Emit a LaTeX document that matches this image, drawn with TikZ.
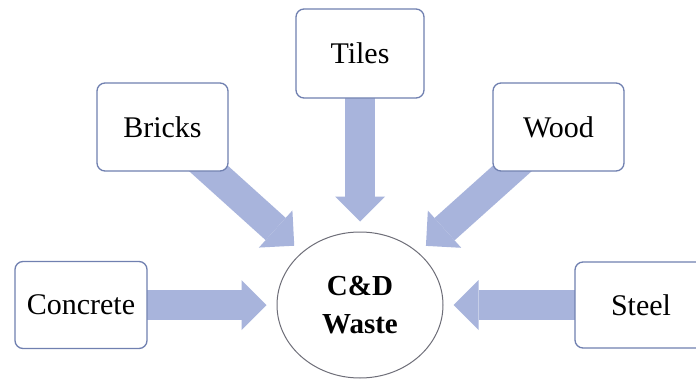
\documentclass[tikz,border=0pt]{standalone}
\usepackage{fontspec}
\setmainfont{LiberationSerif}[Extension=.ttf, UprightFont=*-Regular, BoldFont=*-Bold, ItalicFont=*-Italic, BoldItalicFont=*-BoldItalic]
\usetikzlibrary{arrows.meta,backgrounds,shapes.geometric}
\definecolor{arrowblue}{HTML}{A8B4DC}
\definecolor{boxline}{HTML}{7080B0}
\definecolor{ringline}{HTML}{6E6E78}
\begin{document}
\begin{tikzpicture}[x=1pt,y=-1pt,
  matbox/.style={draw=boxline, line width=1.3pt, rounded corners=8pt, fill=white,
    minimum width=131pt, minimum height=88pt, inner sep=0pt,
    font=\fontsize{30}{36}\selectfont},
  hub/.style={ellipse, draw=ringline, line width=1pt, fill=white,
    minimum width=166pt, minimum height=146pt, inner sep=0pt, align=center,
    font=\bfseries\fontsize{29}{38}\selectfont},
  flow/.style={draw=arrowblue, line width=30pt, shorten >=10pt,
    -{Triangle[length=25pt,width=50pt,line width=0pt]}}]
\useasboundingbox (0,0) rectangle (696,380);
\clip (0,0) rectangle (696,380);
\node[hub] (waste) at (360,305) {C\&D\\Waste};
\node[matbox, minimum width=132pt, minimum height=87pt] (concrete) at (81,305) {Concrete};
\node[matbox] (bricks) at (162.5,127) {Bricks};
\node[matbox, minimum width=128pt, minimum height=89pt] (tiles) at (360,53.5) {Tiles};
\node[matbox] (wood) at (558.5,127) {Wood};
\node[matbox, minimum width=132pt, minimum height=86pt] (steel) at (641,305) {Steel};
\begin{scope}[on background layer]
  \fill[white] (0,0) rectangle (696,380);
  \foreach \s in {concrete,bricks,tiles,wood,steel}
    \draw[flow] (\s.center) -- (waste);
\end{scope}
\end{tikzpicture}
\end{document}
